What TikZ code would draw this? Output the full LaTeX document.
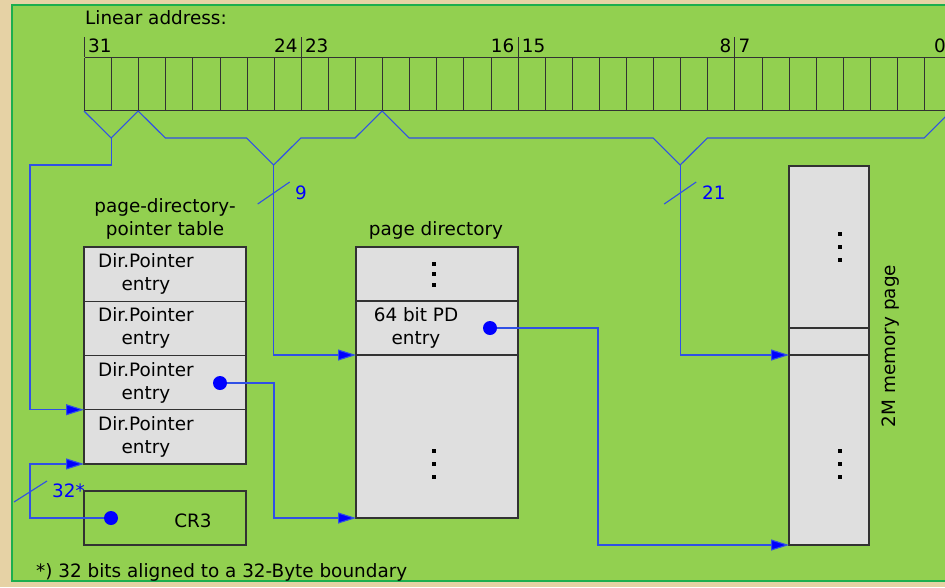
\documentclass[tikz,border=0pt]{standalone}
\usepackage{fontspec}
\setmainfont{DejaVu Sans}
\usetikzlibrary{arrows.meta, positioning, calc}

\definecolor{paper}{RGB}{230,210,165}
\definecolor{panel}{RGB}{146,208,80}
\definecolor{panelline}{RGB}{28,174,78}
\definecolor{boxfill}{RGB}{223,223,223}
\definecolor{boxline}{RGB}{50,50,50}
\definecolor{linkblue}{RGB}{48,80,230}
\definecolor{dotblue}{RGB}{0,0,255}

\begin{document}
\begin{tikzpicture}[x=1pt, y=-1pt, >={Triangle[length=18pt,width=11pt]},
	font=\fontsize{18.4}{23}\selectfont,
	bitcell/.style={minimum width=27.1pt, minimum height=54pt, inner sep=0pt, outer sep=0pt},
	gridline/.style={draw=boxline, line width=1.1pt},
	tablebox/.style={draw=boxline, fill=boxfill, line width=1.2pt, minimum width=162pt, inner sep=0pt, outer sep=0pt},
	entrytext/.style={align=center, inner sep=0pt},
	conn/.style={draw=linkblue, line width=1.1pt},
	arr/.style={conn, -{Triangle[length=18pt,width=11pt,fill=dotblue]}},
	dot/.style={circle, fill=dotblue, minimum size=14pt, inner sep=0pt},
	bluelabel/.style={text=dotblue, inner sep=0pt, anchor=west}]

	% background
	\useasboundingbox (0,0) rectangle (945,587);
	\fill[paper] (0,0) rectangle (945,587);
	\draw[panelline, fill=panel, line width=2pt] (12,5) rectangle (960,581);

	% linear address
	\node[anchor=west, inner sep=0pt] (title) at (85,18) {Linear address:};
	\foreach \i in {0,...,31}
		\node[bitcell] (bit\i) at ({84+27.1*(31-\i)+13.55}, 84) {};
	\draw[gridline] (84.5,57.5) -- (960,57.5) (84.5,110.5) -- (960,110.5);
	\foreach \k in {0,...,32}
		\draw[gridline] ({round(84+27.1*\k)+0.5},57.5) -- ++(0,53);
	\foreach \b in {31,23,15,7}
		\draw[gridline] ([xshift=0.5pt]bit\b.north west) -- ++(0,-20);
	\node[anchor=west, inner sep=0pt] (n31) at ([xshift=4pt]bit31.north west |- 0,46) {31};
	\node[anchor=east, inner sep=0pt] (n24) at ([xshift=-3pt]bit24.north east |- 0,46) {24};
	\node[anchor=west, inner sep=0pt] (n23) at ([xshift=4pt]bit23.north west |- 0,46) {23};
	\node[anchor=east, inner sep=0pt] (n16) at ([xshift=-3pt]bit16.north east |- 0,46) {16};
	\node[anchor=west, inner sep=0pt] (n15) at ([xshift=4pt]bit15.north west |- 0,46) {15};
	\node[anchor=east, inner sep=0pt] (n8) at ([xshift=-3pt]bit8.north east |- 0,46) {8};
	\node[anchor=west, inner sep=0pt] (n7) at ([xshift=4pt]bit7.north west |- 0,46) {7};
	\node[anchor=west, inner sep=0pt] (n0) at (934,46) {0};

	% bit field brackets
	\coordinate (v1) at ([yshift=-27pt]bit31.south east);
	\coordinate (v2) at ([yshift=-54pt]bit25.south east);
	\coordinate (v3) at ([yshift=-54pt]bit10.south east);
	\draw[conn] (bit31.south west) -- (v1) -- (bit30.south east);
	\draw[conn] (bit29.south west) -- ([yshift=-27pt]bit29.south east) -- ([yshift=-27pt]bit26.south east)
		-- (v2) -- ([yshift=-27pt]bit24.south east) -- ([yshift=-27pt]bit22.south east) -- (bit21.south east);
	\draw[conn] (bit20.south west) -- ([yshift=-27pt]bit20.south east) -- ([yshift=-27pt]bit11.south east)
		-- (v3) -- ([yshift=-27pt]bit9.south east) -- ([yshift=-27pt]bit0.south west) -- (bit0.south east);

	% page-directory-pointer table
	\node[entrytext] (pdpttitle) at (165,218.5) {page-directory-\\pointer table};
	\node[tablebox, minimum height=54.25pt] (pdpt1) at (165,274.1) {};
	\node[tablebox, minimum height=54.25pt, below=0pt of pdpt1] (pdpt2) {};
	\node[tablebox, minimum height=54.25pt, below=0pt of pdpt2] (pdpt3) {};
	\node[tablebox, minimum height=54.25pt, below=0pt of pdpt3] (pdpt4) {};
	\foreach \r in {1,...,4}
		\node[entrytext] at ([xshift=-19pt]pdpt\r.center) {Dir.Pointer\\entry};

	% CR3
	\node[tablebox, fill=none, minimum height=54pt] (cr3) at (165,518) {};
	\node[inner sep=0pt] (cr3text) at (193,521) {CR3};

	% page directory
	\node (pdtitle) at (436,230) {page directory};
	\node[tablebox, minimum height=54pt] (pd1) at (437,274) {};
	\node[tablebox, minimum height=54pt, below=0pt of pd1] (pd2) {};
	\node[tablebox, minimum height=163pt, below=0pt of pd2] (pd3) {};
	\node[entrytext] (pdentry) at (416,328) {64 bit PD\\entry};

	% 2M memory page
	\node[tablebox, minimum width=80pt, minimum height=162pt] (mem1) at (829,247) {};
	\node[tablebox, minimum width=80pt, minimum height=27pt, below=0pt of mem1] (mem2) {};
	\node[tablebox, minimum width=80pt, minimum height=190pt, below=0pt of mem2] (mem3) {};
	\node[rotate=90, inner sep=0pt] (memtitle) at (891,346) {2M memory page};

	% vertical dots
	\foreach \cx/\cy/\d in {434/274/10.5, 434/464/13, 840/247/13, 840/464/13}
		\foreach \k in {-1,0,1}
			\fill (\cx-2,\cy+\k*\d-2) rectangle ++(4,4);

	% pointers
	\node[dot] (d0) at (111,518) {};
	\node[dot] (d1) at (220,383) {};
	\node[dot] (d2) at (490,328) {};

	\draw[arr] (v1) -- ([yshift=-27pt]v1) -| ([xshift=-54pt]pdpt4.north west) -- (pdpt4.north west);
	\draw[arr] (d0) -| ([xshift=-54pt]pdpt4.south west) -- (pdpt4.south west);
	\draw[arr] (v2) |- (pd2.south west);
	\draw[arr] (d1) -| ([xshift=-82pt]pd3.south west) -- (pd3.south west);
	\draw[arr] (v3) |- (mem2.south west);
	\draw[arr] (d2) -| ([xshift=-191pt]mem3.south west) -- (mem3.south west);

	% bit counts
	\draw[conn] ($(v2)+(-16,39)$) -- ++(32,-22);
	\node[bluelabel] (w9) at (295,193) {9};
	\draw[conn] ($(v3)+(-16,39)$) -- ++(32,-22);
	\node[bluelabel] (w21) at (702,193) {21};
	\draw[conn] (14,502) -- (47,481);
	\node[bluelabel] (w32) at (52,491) {32*};

	% footnote
	\node[anchor=west, inner sep=0pt] (note) at (36,572) {*) 32 bits aligned to a 32-Byte boundary};
\end{tikzpicture}
\end{document}
